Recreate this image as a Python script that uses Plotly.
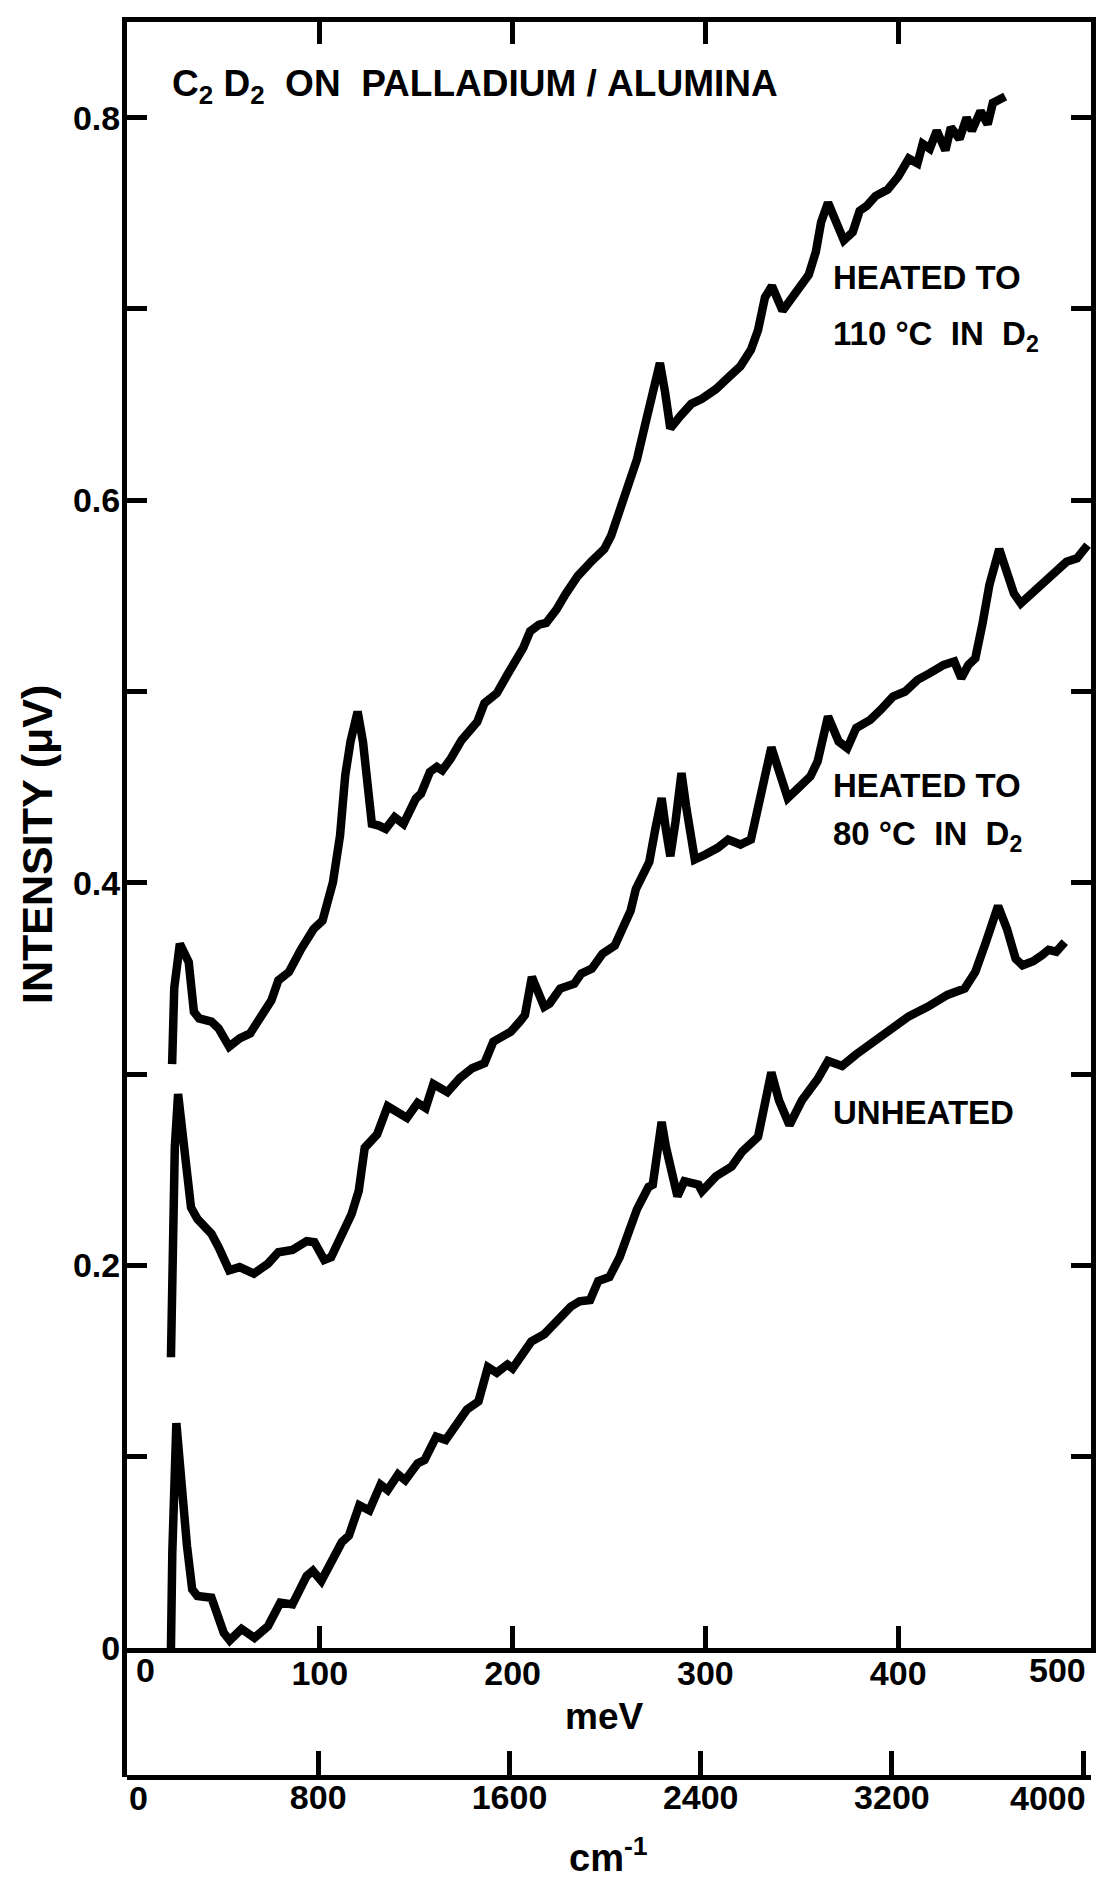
import plotly.graph_objects as go

# ---------------- data ----------------
# energy loss in meV, intensity in microvolts
mev_unheated = [22.8, 23.5, 25.6, 28.3, 31.1, 33.8, 36.5, 43.8, 47.5, 50.2, 53.3, 59.4, 66.1,
                73.1, 79.5, 85.8, 93.2, 96.4, 100.8, 105.9, 111.4, 115.1, 120.5, 125.7, 131.5,
                135.2, 140.6, 144.3, 150.7, 154.3, 160.4, 165.3, 170.2, 176.3, 182.3, 187.2,
                191.8, 197.3, 200.0, 204.2, 209.7, 216.4, 221.9, 230.1, 234.7, 240.2, 244.4,
                250.2, 255.5, 259.4, 264.5, 270.5, 272.7, 274.5, 277.3, 279.5, 281.8, 285.5,
                289.1, 293.0, 296.4, 298.2, 305.5, 313.6, 319.1, 327.3, 330.0, 334.2, 338.2,
                343.6, 350.0, 358.2, 363.6, 370.9, 378.2, 389.1, 397.3, 405.5, 415.5, 425.5,
                434.5, 440.0, 445.5, 451.8, 456.4, 460.9, 464.5, 470.0, 474.5, 478.0, 482.0, 486.4]
int_unheated = [0.0, 0.05, 0.1175, 0.0816, 0.0535, 0.0307, 0.0272, 0.0263, 0.0149, 0.0079, 0.0040,
                0.0100, 0.0053, 0.0114, 0.0237, 0.0228, 0.0377, 0.0404, 0.0351, 0.0439, 0.0553,
                0.0588, 0.0746, 0.0719, 0.0854, 0.0825, 0.0907, 0.0877, 0.0965, 0.0982, 0.1105,
                0.1088, 0.1167, 0.1246, 0.1289, 0.1468, 0.1439, 0.1482, 0.1461, 0.1518, 0.1602,
                0.1640, 0.1702, 0.1784, 0.1812, 0.1819, 0.1918, 0.1939, 0.2043, 0.2156, 0.2293,
                0.2410, 0.2422, 0.2550, 0.2750, 0.2620, 0.2500, 0.2362, 0.2440, 0.2425, 0.2422,
                0.2388, 0.2466, 0.2517, 0.2595, 0.2672, 0.2793, 0.3009, 0.2862, 0.2733, 0.2862,
                0.2974, 0.3069, 0.3043, 0.3103, 0.3181, 0.3233, 0.3302, 0.3353, 0.3414, 0.3448,
                0.3534, 0.3690, 0.3879, 0.3759, 0.3603, 0.3569, 0.3590, 0.3621, 0.3650, 0.3640,
                0.3690]

mev_80c = [22.8, 23.5, 24.8, 26.5, 29.2, 31.0, 33.2, 36.5, 43.8, 47.5, 53.0, 58.4, 65.8, 73.1,
           78.5, 85.8, 93.2, 97.2, 102.3, 105.9, 111.4, 116.5, 120.2, 123.3, 129.7, 135.2, 145.2,
           150.7, 154.9, 158.9, 166.2, 172.6, 179.0, 185.4, 190.0, 199.1, 203.7, 206.4, 210.0,
           213.0, 216.4, 219.2, 224.7, 232.0, 235.6, 241.1, 246.6, 253.0, 257.5, 261.2, 263.9,
           267.3, 270.9, 274.0, 277.3, 279.5, 281.8, 284.5, 287.6, 290.0, 292.7, 294.5, 300.0,
           306.4, 311.8, 318.2, 323.6, 327.3, 330.9, 334.2, 338.2, 342.7, 347.3, 354.5, 358.2,
           363.6, 369.1, 373.6, 378.2, 385.5, 390.9, 397.3, 403.6, 410.0, 416.4, 423.6, 429.1,
           432.7, 436.4, 440.0, 443.6, 447.3, 452.4, 456.4, 460.0, 463.6, 469.1, 476.4, 481.8,
           487.3, 492.7, 498.2]
int_80c = [0.152, 0.22, 0.262, 0.2896, 0.2667, 0.245, 0.2303, 0.2243, 0.2165, 0.2095, 0.1974,
           0.1991, 0.1957, 0.2009, 0.2069, 0.2081, 0.2127, 0.2121, 0.2029, 0.2043, 0.2165, 0.2269,
           0.2390, 0.2615, 0.2685, 0.2832, 0.2771, 0.2849, 0.2823, 0.2948, 0.2906, 0.2979, 0.3031,
           0.3057, 0.3170, 0.3222, 0.3274, 0.3309, 0.3508, 0.3420, 0.3352, 0.3369, 0.3447, 0.3473,
           0.3525, 0.3551, 0.3629, 0.3672, 0.3776, 0.3854, 0.3967, 0.4034, 0.4110, 0.4280, 0.4443,
           0.4280, 0.4139, 0.4320, 0.4574, 0.4400, 0.4235, 0.4122, 0.4148, 0.4183, 0.4226, 0.4200,
           0.4226, 0.4391, 0.4583, 0.4708, 0.4583, 0.4443, 0.4487, 0.4557, 0.4635, 0.4870, 0.4739,
           0.4704, 0.4809, 0.4852, 0.4904, 0.4974, 0.5000, 0.5061, 0.5096, 0.5139, 0.5157, 0.5070,
           0.5139, 0.5174, 0.5348, 0.5557, 0.5744, 0.5626, 0.5513, 0.5461, 0.5513, 0.5583, 0.5635,
           0.5678, 0.5696, 0.5765]

mev_110c = [23.4, 24.5, 27.4, 32.0, 34.7, 37.4, 43.8, 47.5, 53.0, 58.4, 63.9, 69.4, 74.9, 78.5,
            84.0, 90.4, 96.8, 101.4, 104.1, 106.8, 110.5, 113.2, 115.9, 119.6, 122.4, 125.1,
            127.0, 130.6, 134.2, 138.8, 143.4, 149.8, 152.5, 157.1, 160.7, 163.5, 168.0, 173.5,
            177.2, 181.7, 185.4, 191.8, 197.3, 201.8, 205.5, 209.1, 213.7, 217.4, 222.8, 227.4,
            233.8, 241.1, 247.5, 251.1, 254.8, 258.4, 261.2, 264.5, 269.1, 272.7, 276.4, 279.1,
            281.8, 287.3, 292.7, 298.2, 305.5, 311.8, 318.2, 323.6, 327.3, 330.9, 334.5, 340.0,
            345.5, 353.6, 357.3, 360.0, 363.6, 367.3, 371.8, 376.4, 380.0, 383.6, 388.2, 394.5,
            400.0, 405.5, 410.0, 412.7, 416.4, 420.0, 424.5, 427.3, 431.8, 435.5, 438.2, 442.7,
            446.4, 449.1, 455.5]
int_110c = [0.3052, 0.345, 0.3681, 0.3586, 0.3326, 0.3291, 0.3274, 0.3239, 0.3144, 0.3187, 0.3213,
            0.3300, 0.3386, 0.3490, 0.3534, 0.3655, 0.3759, 0.3802, 0.3898, 0.4002, 0.4247, 0.4562,
            0.4737, 0.4895, 0.4737, 0.4457, 0.4308, 0.4299, 0.4282, 0.4343, 0.4308, 0.4440, 0.4466,
            0.4580, 0.4606, 0.4588, 0.4650, 0.4746, 0.4790, 0.4842, 0.4939, 0.4991, 0.5088, 0.5158,
            0.5228, 0.5315, 0.5350, 0.5359, 0.5429, 0.5508, 0.5604, 0.5683, 0.5744, 0.5814, 0.5928,
            0.6016, 0.6103, 0.6214, 0.6410, 0.6547, 0.6718, 0.6564, 0.6376, 0.6444, 0.6504, 0.6530,
            0.6581, 0.6641, 0.6701, 0.6786, 0.6889, 0.7060, 0.7120, 0.6991, 0.7060, 0.7179, 0.7299,
            0.7453, 0.7556, 0.7470, 0.7359, 0.7402, 0.7513, 0.7538, 0.7590, 0.7624, 0.7692, 0.7786,
            0.7761, 0.7863, 0.7838, 0.7932, 0.7829, 0.7949, 0.7889, 0.8000, 0.7932, 0.8034, 0.7966,
            0.8077, 0.8111]

mev_ticks = [0, 100, 200, 300, 400, 500]
mev_labels = ["0", "100", "200", "300", "400", "500"]
cm_ticks = [0, 800, 1600, 2400, 3200, 4000]
cm_labels = ["0", "800", "1600", "2400", "3200", "4000"]
int_ticks = [0, 0.1, 0.2, 0.3, 0.4, 0.5, 0.6, 0.7, 0.8]
int_labels = ["0", "", "0.2", "", "0.4", "", "0.6", "", "0.8"]

MEV_PER_CM = 0.123984  # 1 cm^-1 in meV
MEV_MAX = 500
INT_MAX = 0.85

# ---------------- figure ----------------
W, H = 1100, 1881
ML, MR, MT, MB = 127, 9, 22, 104
plot_h = H - MT - MB
pw = W - ML - MR
y_dom0 = 129 / plot_h   # meV axis sits above the cm^-1 axis

FONT = "Liberation Sans"
LINE = dict(color="black", width=8.5)
TICKFONT = dict(family=FONT, size=34, color="black", weight="bold")

fig = go.Figure()
for xs, ys in [(mev_unheated, int_unheated), (mev_80c, int_80c), (mev_110c, int_110c)]:
    fig.add_trace(go.Scatter(x=xs, y=ys, mode="lines", line=LINE,
                             showlegend=False, hoverinfo="skip"))
# invisible trace on the wavenumber axis so it is drawn
fig.add_trace(go.Scatter(x=[0, MEV_MAX / MEV_PER_CM], y=[None, None], xaxis="x2", yaxis="y",
                         mode="lines", showlegend=False, hoverinfo="skip"))

axis_common = dict(showgrid=False, zeroline=False, showline=True, linewidth=5,
                   linecolor="black", ticks="inside", tickwidth=5, tickcolor="black",
                   automargin=False, tickfont=TICKFONT)

# the end labels of both x scales sit inside the frame; they are written separately below
mev_inner = [t if 0 < v < MEV_MAX else "" for v, t in zip(mev_ticks, mev_labels)]
cm_inner = [t if 0 < v < 3900 else "" for v, t in zip(cm_ticks, cm_labels)]

fig.update_layout(
    width=W, height=H,
    margin=dict(l=ML, r=MR, t=MT, b=MB, pad=0, autoexpand=False),
    paper_bgcolor="white", plot_bgcolor="white",
    font=dict(family=FONT, color="black"),
    showlegend=False,
    xaxis=dict(range=[0, MEV_MAX], tickmode="array", tickvals=mev_ticks, ticktext=mev_inner,
               ticklen=22, mirror="ticks", anchor="y", ticklabelstandoff=-9, **axis_common),
    xaxis2=dict(range=[0, MEV_MAX / MEV_PER_CM], tickmode="array", tickvals=cm_ticks,
                ticktext=cm_inner, ticklen=24, overlaying="x", anchor="free", position=0,
                side="bottom", ticklabelstandoff=-12, **axis_common),
    yaxis=dict(domain=[y_dom0, 1], range=[0, INT_MAX], tickmode="array", tickvals=int_ticks,
               ticktext=int_labels, ticklen=20, mirror="ticks", ticklabelstandoff=-5,
               **axis_common),
)

# left frame continues down to the wavenumber axis
fig.add_shape(type="line", xref="paper", yref="paper", x0=-2.5 / pw,
              x1=-2.5 / pw, y0=0, y1=y_dom0, line=dict(color="black", width=5))

def ann(text, x, y, size, xref="x", yref="y", xanchor="left", yanchor="middle", angle=0,
        xshift=0):
    fig.add_annotation(text=text, x=x, y=y, xref=xref, yref=yref, xanchor=xanchor,
                       yanchor=yanchor, showarrow=False, textangle=angle, xshift=xshift,
                       font=dict(family=FONT, size=size, color="black", weight="bold"))

# end labels of the two energy scales
y_mev_lab = (1777 - 1670) / plot_h
y_cm_lab = (1777 - 1798) / plot_h
ann(mev_labels[0], mev_ticks[0], y_mev_lab, 34, yref="paper", xanchor="left", xshift=7)
ann(mev_labels[-1], MEV_MAX, y_mev_lab, 34, yref="paper", xanchor="right", xshift=-3)
ann(cm_labels[0], cm_ticks[0], y_cm_lab, 34, xref="x2", yref="paper", xanchor="left", xshift=0)
ann(cm_labels[-1], MEV_MAX, y_cm_lab, 34, yref="paper", xanchor="right", xshift=-3)

ann("C<sub>2</sub>\u00a0D<sub>2</sub>\u00a0\u00a0ON\u00a0\u00a0PALLADIUM\u00a0/\u00a0ALUMINA",
    22.3, 0.8165, 37)
ann("HEATED TO", 365, 0.7167, 33)
ann("110 \u00b0C\u00a0\u00a0IN\u00a0\u00a0D<sub>2</sub>", 365, 0.686, 33)
ann("HEATED TO", 365, 0.4511, 33)
ann("80 \u00b0C\u00a0\u00a0IN\u00a0\u00a0D<sub>2</sub>", 365, 0.4245, 33)
ann("UNHEATED", 365, 0.2797, 33)

ann("meV", (604 - ML) / pw, (1777 - 1716) / plot_h, 37, xref="paper", yref="paper",
    xanchor="center")
ann("cm<sup>-1</sup>", (608 - ML) / pw, (1777 - 1855) / plot_h, 38, xref="paper",
    yref="paper", xanchor="center")
ann("INTENSITY (\u03bcV)", (37 - ML) / pw, (1777 - 845) / plot_h, 43, xref="paper",
    yref="paper", xanchor="center", angle=-90)

fig.write_html("out.html")
